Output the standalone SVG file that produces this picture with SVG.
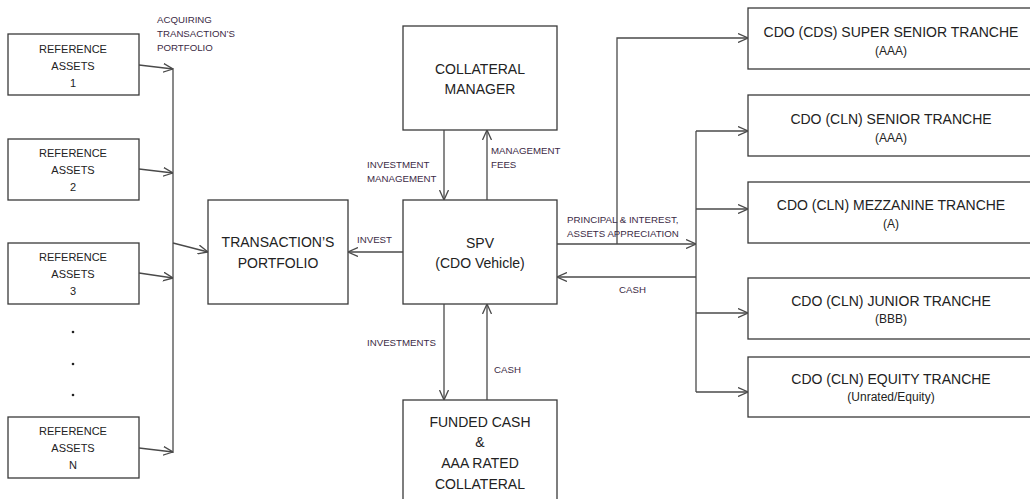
<svg xmlns="http://www.w3.org/2000/svg" width="1030" height="499" viewBox="0 0 1030 499">
  <style>
    .box { fill: #ffffff; stroke: #3a3a3a; stroke-width: 1.3; }
    .t { font-family: "Liberation Sans", Arial, sans-serif; fill: #222222; text-anchor: middle; }
    .big { font-size: 14px; }
    .mid { font-size: 11px; }
    .sub { font-size: 12px; }
    .lbl { font-family: "Liberation Sans", Arial, sans-serif; font-size: 9.7px; fill: #3b2a45; }
    .wire { fill: none; stroke: #4a4a4a; stroke-width: 1.3; }
  </style>
  <defs>
    <marker id="arr" viewBox="0 0 10 10" refX="10" refY="5" markerWidth="10" markerHeight="10" orient="auto" markerUnits="userSpaceOnUse">
      <path d="M0,0.5 L10,5 L0,9.5" fill="none" stroke="#4a4a4a" stroke-width="1.3"/>
    </marker>
  </defs>
  <rect width="1030" height="499" fill="#ffffff"/>

  <!-- reference assets -->
  <g id="ref1">
    <rect class="box" x="8" y="34" width="131" height="61"/>
    <text class="t mid" x="73" y="53">REFERENCE</text>
    <text class="t mid" x="73" y="70">ASSETS</text>
    <text class="t mid" x="73" y="87">1</text>
  </g>
  <g id="ref2">
    <rect class="box" x="8" y="139" width="131" height="61"/>
    <text class="t mid" x="73" y="157">REFERENCE</text>
    <text class="t mid" x="73" y="174">ASSETS</text>
    <text class="t mid" x="73" y="191">2</text>
  </g>
  <g id="ref3">
    <rect class="box" x="8" y="243" width="131" height="61"/>
    <text class="t mid" x="73" y="261">REFERENCE</text>
    <text class="t mid" x="73" y="278">ASSETS</text>
    <text class="t mid" x="73" y="295">3</text>
  </g>
  <g id="ellipsis" fill="#222">
    <circle cx="73" cy="332" r="1.3"/>
    <circle cx="73" cy="364" r="1.3"/>
    <circle cx="73" cy="395" r="1.3"/>
  </g>
  <g id="refN">
    <rect class="box" x="8" y="417" width="131" height="61"/>
    <text class="t mid" x="73" y="435">REFERENCE</text>
    <text class="t mid" x="73" y="452">ASSETS</text>
    <text class="t mid" x="73" y="469">N</text>
  </g>

  <!-- central column -->
  <g id="portfolio">
    <rect class="box" x="208" y="200" width="140" height="104"/>
    <text class="t big" x="278" y="247">TRANSACTION’S</text>
    <text class="t big" x="278" y="268">PORTFOLIO</text>
  </g>
  <g id="manager">
    <rect class="box" x="403" y="26" width="154" height="104"/>
    <text class="t big" x="480" y="74">COLLATERAL</text>
    <text class="t big" x="480" y="94">MANAGER</text>
  </g>
  <g id="spv">
    <rect class="box" x="403" y="200" width="154" height="104"/>
    <text class="t big" x="480" y="248">SPV</text>
    <text class="t big" x="480" y="268">(CDO Vehicle)</text>
  </g>
  <g id="collateral">
    <rect class="box" x="403" y="400" width="154" height="110"/>
    <text class="t big" x="480" y="427">FUNDED CASH</text>
    <text class="t big" x="480" y="447">&amp;</text>
    <text class="t big" x="480" y="468">AAA RATED</text>
    <text class="t big" x="480" y="489">COLLATERAL</text>
  </g>

  <!-- tranches -->
  <g id="super-senior">
    <rect class="box" x="748" y="8" width="290" height="61"/>
    <text class="t big" x="891" y="37">CDO (CDS) SUPER SENIOR TRANCHE</text>
    <text class="t sub" x="891" y="55">(AAA)</text>
  </g>
  <g id="senior">
    <rect class="box" x="748" y="95" width="290" height="61"/>
    <text class="t big" x="891" y="124">CDO (CLN) SENIOR TRANCHE</text>
    <text class="t sub" x="891" y="142">(AAA)</text>
  </g>
  <g id="mezzanine">
    <rect class="box" x="748" y="182" width="290" height="61"/>
    <text class="t big" x="891" y="210">CDO (CLN) MEZZANINE TRANCHE</text>
    <text class="t sub" x="891" y="228">(A)</text>
  </g>
  <g id="junior">
    <rect class="box" x="748" y="278" width="290" height="61"/>
    <text class="t big" x="891" y="306">CDO (CLN) JUNIOR TRANCHE</text>
    <text class="t sub" x="891" y="323">(BBB)</text>
  </g>
  <g id="equity">
    <rect class="box" x="748" y="357" width="290" height="60"/>
    <text class="t big" x="891" y="384">CDO (CLN) EQUITY TRANCHE</text>
    <text class="t sub" x="891" y="401">(Unrated/Equity)</text>
  </g>

  <!-- connectors -->
  <g id="connectors">
    <path class="wire" d="M139,65 L173,69" marker-end="url(#arr)"/>
    <path class="wire" d="M139,169 L173,173" marker-end="url(#arr)"/>
    <path class="wire" d="M139,273 L173,278" marker-end="url(#arr)"/>
    <path class="wire" d="M139,448 L173,452" marker-end="url(#arr)"/>
    <path class="wire" d="M173,68 V453"/>
    <path class="wire" d="M173,243 L208,252" marker-end="url(#arr)"/>

    <path class="wire" d="M444,130 V200" marker-end="url(#arr)"/>
    <path class="wire" d="M487,200 V130" marker-end="url(#arr)"/>
    <path class="wire" d="M403,252 H348" marker-end="url(#arr)"/>
    <path class="wire" d="M444,304 V400" marker-end="url(#arr)"/>
    <path class="wire" d="M487,400 V304" marker-end="url(#arr)"/>

    <path class="wire" d="M557,244 H696" marker-end="url(#arr)"/>
    <path class="wire" d="M617,244 V38 H748" marker-end="url(#arr)"/>
    <path class="wire" d="M696,131 V392"/>
    <path class="wire" d="M696,131 H748" marker-end="url(#arr)"/>
    <path class="wire" d="M696,209 H748" marker-end="url(#arr)"/>
    <path class="wire" d="M696,313 H748" marker-end="url(#arr)"/>
    <path class="wire" d="M696,392 H748" marker-end="url(#arr)"/>
    <path class="wire" d="M696,277 H557" marker-end="url(#arr)"/>
  </g>

  <!-- flow labels -->
  <g id="labels">
    <text class="lbl" x="157" y="23">ACQUIRING</text>
    <text class="lbl" x="157" y="37">TRANSACTION’S</text>
    <text class="lbl" x="157" y="51">PORTFOLIO</text>
    <text class="lbl" x="367" y="168">INVESTMENT</text>
    <text class="lbl" x="367" y="182">MANAGEMENT</text>
    <text class="lbl" x="491" y="154">MANAGEMENT</text>
    <text class="lbl" x="491" y="168">FEES</text>
    <text class="lbl" x="357" y="243">INVEST</text>
    <text class="lbl" x="567" y="223">PRINCIPAL &amp; INTEREST,</text>
    <text class="lbl" x="567" y="237">ASSETS APPRECIATION</text>
    <text class="lbl" x="619" y="293">CASH</text>
    <text class="lbl" x="367" y="346">INVESTMENTS</text>
    <text class="lbl" x="494" y="373">CASH</text>
  </g>
</svg>
